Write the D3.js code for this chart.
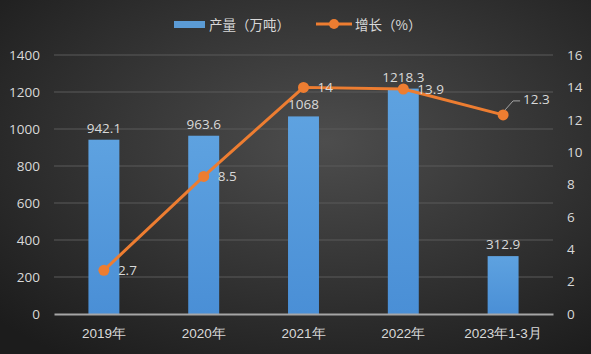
<!DOCTYPE html>
<html>
<head>
<meta charset="utf-8">
<script src="https://cdn.jsdelivr.net/npm/d3@7"></script>
<style>
  body { margin: 0; background: #222; }
  svg { display: block; font-family: "Noto Sans CJK SC", "Open Sans", sans-serif; }
</style>
</head>
<body>
<svg id="chart" width="591" height="354"></svg>
<script>
// data
const categories = ["2019年", "2020年", "2021年", "2022年", "2023年1-3月"];
const output = [942.1, 963.6, 1068, 1218.3, 312.9];
const growth = [2.7, 8.5, 14, 13.9, 12.3];
const leftTicks = [0, 200, 400, 600, 800, 1000, 1200, 1400];
const rightTicks = [0, 2, 4, 6, 8, 10, 12, 14, 16];

const width = 591, height = 354;
const margins = {top: 55, bottom: 40, left: 54, right: 38};
const plotW = width - margins.left - margins.right;
const plotH = height - margins.top - margins.bottom;

const svg = d3.select("#chart");
const defs = svg.append("defs");

const bg = defs.append("radialGradient").attr("id", "bg")
  .attr("cx", "55%").attr("cy", "40%").attr("r", "75%");
bg.append("stop").attr("offset", "0%").attr("stop-color", "#4d4d4d");
bg.append("stop").attr("offset", "100%").attr("stop-color", "#1c1c1c");

const barGrad = defs.append("linearGradient").attr("id", "barGrad")
  .attr("x1", 0).attr("y1", 0).attr("x2", 0).attr("y2", 1);
barGrad.append("stop").attr("offset", "0%").attr("stop-color", "#5ea2e0");
barGrad.append("stop").attr("offset", "100%").attr("stop-color", "#4a8fd6");

svg.append("rect").attr("width", width).attr("height", height).attr("fill", "url(#bg)");

const xScale = d3.scaleBand().domain(categories).range([0, plotW]).paddingInner(0.69).paddingOuter(0.345);
const yLeft = d3.scaleLinear().domain([0, 1400]).range([plotH, 0]);
const yRight = d3.scaleLinear().domain([0, 16]).range([plotH, 0]);

const chart = svg.append("g").attr("transform", `translate(${margins.left},${margins.top})`);

// gridlines
chart.append("g")
  .selectAll("line")
  .data(leftTicks.slice(1))
  .enter()
  .append("line")
  .attr("x1", 0).attr("x2", plotW)
  .attr("y1", d => yLeft(d)).attr("y2", d => yLeft(d))
  .attr("stroke", "#5a5a5a").attr("stroke-width", 1);

// left axis
const leftAxis = chart.append("g")
  .call(d3.axisLeft(yLeft).tickValues(leftTicks).tickFormat(d3.format("d")).tickSize(0).tickPadding(14));
leftAxis.select(".domain").remove();
leftAxis.selectAll("text").attr("fill", "#d9d9d9").style("font-size", "13.5px").attr("font-family", "Open Sans, sans-serif");

// right axis
const rightAxis = chart.append("g")
  .attr("transform", `translate(${plotW},0)`)
  .call(d3.axisRight(yRight).tickValues(rightTicks).tickFormat(d3.format("d")).tickSize(0).tickPadding(14));
rightAxis.select(".domain").remove();
rightAxis.selectAll("text").attr("fill", "#d9d9d9").style("font-size", "13.5px").attr("font-family", "Open Sans, sans-serif");

// bars
chart.append("g")
  .selectAll("rect")
  .data(output)
  .enter()
  .append("rect")
  .attr("x", (d, i) => xScale(categories[i]))
  .attr("y", d => yLeft(d))
  .attr("width", xScale.bandwidth())
  .attr("height", d => plotH - yLeft(d))
  .attr("fill", "url(#barGrad)");

// bottom axis
const bottomAxis = chart.append("g")
  .attr("transform", `translate(0,${plotH})`)
  .call(d3.axisBottom(xScale).tickSize(0).tickPadding(14));
bottomAxis.select(".domain").attr("stroke", "#a6a6a6").attr("stroke-width", 2);
bottomAxis.selectAll("text").attr("fill", "#d9d9d9").style("font-size", "13.5px");

// bar labels
chart.append("g")
  .selectAll("text")
  .data(output)
  .enter()
  .append("text")
  .attr("x", (d, i) => xScale(categories[i]) + xScale.bandwidth() / 2)
  .attr("y", d => yLeft(d) - 7)
  .attr("text-anchor", "middle")
  .attr("fill", "#d9d9d9")
  .style("font-size", "13.5px")
  .attr("font-family", "Open Sans, sans-serif")
  .text(d => d);

// growth line
const cx = (d, i) => xScale(categories[i]) + xScale.bandwidth() / 2;
const line = d3.line().x(cx).y(d => yRight(d));
chart.append("path")
  .datum(growth)
  .attr("d", line)
  .attr("fill", "none")
  .attr("stroke", "#ed7d31")
  .attr("stroke-width", 3)
  .attr("stroke-linejoin", "round");

chart.append("g")
  .selectAll("circle")
  .data(growth)
  .enter()
  .append("circle")
  .attr("cx", cx)
  .attr("cy", d => yRight(d))
  .attr("r", 5.5)
  .attr("fill", "#ed7d31");

// growth labels
const last = growth.length - 1;
chart.append("g")
  .selectAll("text")
  .data(growth)
  .enter()
  .append("text")
  .attr("x", (d, i) => cx(d, i) + (i === last ? 20 : 14))
  .attr("y", (d, i) => yRight(d) + (i === last ? -11 : 5))
  .attr("fill", "#d9d9d9")
  .style("font-size", "13.5px")
  .attr("font-family", "Open Sans, sans-serif")
  .text(d => d);

// leader line for last label
chart.append("path")
  .attr("d", `M${cx(growth[last], last) + 2},${yRight(growth[last]) - 5} L${cx(growth[last], last) + 10},${yRight(growth[last]) - 14} L${cx(growth[last], last) + 17},${yRight(growth[last]) - 14}`)
  .attr("fill", "none")
  .attr("stroke", "#a6a6a6")
  .attr("stroke-width", 1);

// legend
const legend = svg.append("g");
legend.append("rect").attr("x", 174).attr("y", 21).attr("width", 31).attr("height", 7).attr("fill", "#5b9bd5");
legend.append("text").attr("x", 209).attr("y", 29.5).attr("fill", "#d9d9d9").style("font-size", "13.5px").text("产量（万吨）");
legend.append("line").attr("x1", 316).attr("x2", 352).attr("y1", 24).attr("y2", 24).attr("stroke", "#ed7d31").attr("stroke-width", 3);
legend.append("circle").attr("cx", 334).attr("cy", 24).attr("r", 5).attr("fill", "#ed7d31");
legend.append("text").attr("x", 355).attr("y", 29.5).attr("fill", "#d9d9d9").style("font-size", "13.5px").text("增长（%）");
</script>
</body>
</html>
